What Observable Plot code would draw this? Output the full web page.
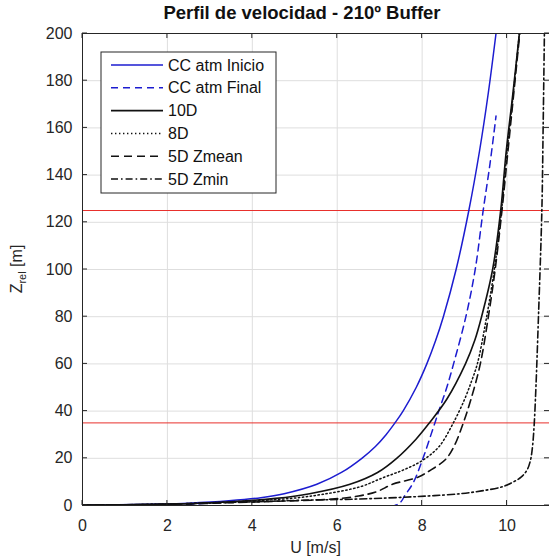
<!DOCTYPE html>
<html>
<head>
<meta charset="utf-8">
<script src="https://cdn.jsdelivr.net/npm/d3@7"></script>
<script src="https://cdn.jsdelivr.net/npm/@observablehq/plot@0.6"></script>
<style>
  html, body { margin: 0; padding: 0; background: #fff; }
  #chart { position: relative; width: 549px; height: 560px; }
  svg { font-family: "Liberation Sans", Arial, sans-serif; }
</style>
</head>
<body>
<div id="chart"></div>
<script>
// ---- data ----
const titleText = "Perfil de velocidad - 210º Buffer";
const xLabel = "U [m/s]";
const xTicks = [0, 2, 4, 6, 8, 10];
const yTicks = [0, 20, 40, 60, 80, 100, 120, 140, 160, 180, 200];
const refHeights = [35, 125];

const seriesNames = ["CC atm Inicio", "CC atm Final", "10D", "8D", "5D Zmean", "5D Zmin"];

const zInicio = [0.16, 0.3, 0.6, 1, 2, 3.3, 5, 9, 14, 20, 25, 30, 35, 40, 50, 60, 70, 80, 100, 125, 150, 175, 200];
const uInicio = [0, 0.85, 1.8, 2.5, 3.45, 4.2, 4.75, 5.52, 6.1, 6.58, 6.9, 7.15, 7.36, 7.55, 7.86, 8.11, 8.32, 8.5, 8.8, 9.1, 9.35, 9.56, 9.74];

const zFinal = [0.4, 0.2, 5, 10, 19, 35, 41, 50, 60, 80, 100, 124, 145, 165];
const uFinal = [2.45, 7.39, 7.62, 7.8, 8.0, 8.3, 8.41, 8.58, 8.74, 9.03, 9.25, 9.43, 9.6, 9.74];

const z10D = [0.15, 0.6, 1.5, 3, 5, 9, 14, 20, 28, 35, 45, 60, 70, 80, 100, 125, 150, 175, 200];
const u10D = [0, 2.0, 3.4, 4.55, 5.35, 6.3, 6.95, 7.4, 7.85, 8.17, 8.58, 9.02, 9.24, 9.4, 9.66, 9.85, 9.98, 10.14, 10.29];

const z8D = [0.15, 0.6, 1.5, 3, 4.75, 8, 11.8, 15, 19, 25, 34.5, 45, 53, 60, 80, 100, 125, 150, 175, 200];
const u8D = [0, 2.0, 3.5, 4.9, 5.66, 6.55, 7.08, 7.55, 8.0, 8.4, 8.72, 9.0, 9.17, 9.3, 9.52, 9.7, 9.87, 10.0, 10.15, 10.29];

const z5DMean = [0.15, 0.5, 1.2, 1.8, 2.6, 4, 6, 9, 12, 15, 19.5, 25, 34.5, 45, 60, 80, 100, 125, 150, 175, 200];
const u5DMean = [0, 2.0, 3.5, 4.6, 5.8, 6.5, 6.95, 7.3, 7.9, 8.2, 8.55, 8.75, 8.96, 9.15, 9.37, 9.56, 9.72, 9.88, 10.02, 10.16, 10.3];

const z5DMin = [0.15, 0.6, 1.5, 2.3, 2.6, 3.2, 4, 5, 6.2, 8, 10, 12, 15, 19, 25, 34.5, 50, 80, 125, 160, 200];
const u5DMin = [0, 2.0, 3.9, 5.3, 6.2, 7.2, 8.1, 8.9, 9.4, 9.9, 10.15, 10.33, 10.47, 10.55, 10.6, 10.64, 10.68, 10.74, 10.82, 10.85, 10.88];

// ---- styling ----
const seriesZ = [zInicio, zFinal, z10D, z8D, z5DMean, z5DMin];
const seriesU = [uInicio, uFinal, u10D, u8D, u5DMean, u5DMin];
const seriesColor = ["#1c1cd0", "#1c1cd0", "#111", "#111", "#111", "#111"];
const seriesDash = [null, "7,5", null, "1.4,2.6", "8,5", "7,3,1.6,3"];
const seriesWidth = [1.5, 1.5, 1.6, 1.5, 1.6, 1.6];

const rows = seriesNames.flatMap((name, i) =>
  seriesZ[i].map((z, j) => ({series: name, z, u: seriesU[i][j]}))
);

const W = 549, H = 560;
const mL = 82, mR = 0, mT = 33, mB = 55;
const ink = "#262626";

const lineMarks = seriesNames.map((name, i) =>
  Plot.line(rows.filter(d => d.series === name), {
    x: "u", y: "z",
    stroke: seriesColor[i],
    strokeWidth: seriesWidth[i],
    strokeDasharray: seriesDash[i],
    curve: "catmull-rom",
    clip: true
  })
);

const chart = Plot.plot({
  width: W, height: H,
  marginLeft: mL, marginRight: mR, marginTop: mT, marginBottom: mB,
  style: {fontFamily: "'Liberation Sans', Arial, sans-serif", fontSize: "16px", color: ink, background: "#fff"},
  x: {type: "linear", domain: [0, 11], ticks: xTicks, label: null},
  y: {type: "linear", domain: [0, 200], ticks: yTicks, label: null},
  marks: [
    Plot.gridX(xTicks, {stroke: "#dedede", strokeOpacity: 1, strokeWidth: 1}),
    Plot.gridY(yTicks, {stroke: "#dedede", strokeOpacity: 1, strokeWidth: 1}),
    Plot.ruleY(refHeights, {stroke: "#e8302c", strokeWidth: 1}),
    ...lineMarks,
    Plot.frame({stroke: ink, strokeWidth: 1}),
    Plot.axisX(xTicks, {anchor: "bottom", tickSize: 0, tickPadding: 14, fontSize: 16, fill: ink}),
    Plot.axisY(yTicks, {anchor: "left", tickSize: 0, tickPadding: 10, fontSize: 16, fill: ink})
  ]
});

document.getElementById("chart").appendChild(chart);

const xs = chart.scale("x"), ys = chart.scale("y");
const svg = d3.select(chart);
const root = svg.append("g");

// inward ticks on all sides (MATLAB box style)
const tk = root.append("g").attr("stroke", ink).attr("stroke-width", 1);
const pTop = mT, pBottom = H - mB, pLeft = mL, pRight = W - mR;
xTicks.forEach(v => {
  const px = xs.apply(v);
  tk.append("line").attr("x1", px).attr("x2", px).attr("y1", pBottom).attr("y2", pBottom - 5);
  tk.append("line").attr("x1", px).attr("x2", px).attr("y1", pTop).attr("y2", pTop + 5);
});
yTicks.forEach(v => {
  const py = ys.apply(v);
  tk.append("line").attr("x1", pLeft).attr("x2", pLeft + 5).attr("y1", py).attr("y2", py);
  tk.append("line").attr("x1", pRight).attr("x2", pRight - 5).attr("y1", py).attr("y2", py);
});

// title
root.append("text")
  .attr("x", 302).attr("y", 19)
  .attr("text-anchor", "middle")
  .attr("font-size", 18.5).attr("font-weight", "bold").attr("fill", "#111")
  .text(titleText);

// x label
root.append("text")
  .attr("x", (mL + W - mR) / 2).attr("y", 553)
  .attr("text-anchor", "middle")
  .attr("font-size", 16).attr("fill", ink)
  .text(xLabel);

// y label with subscript
const yl = root.append("text")
  .attr("transform", `translate(22, ${(mT + H - mB) / 2}) rotate(-90)`)
  .attr("text-anchor", "middle")
  .attr("font-size", 16).attr("fill", ink);
yl.append("tspan").text("Z");
yl.append("tspan").attr("font-size", 11).attr("dy", 4).text("rel");
yl.append("tspan").attr("dy", -4).text(" [m]");

// legend
const lg = root.append("g");
const lx = 101, ly = 52, lw = 175, lh = 141, step = 22.8;
lg.append("rect").attr("x", lx).attr("y", ly).attr("width", lw).attr("height", lh)
  .attr("fill", "#fff").attr("stroke", ink).attr("stroke-width", 1);
seriesNames.forEach((name, i) => {
  const cy = ly + 13 + i * step;
  lg.append("line")
    .attr("x1", lx + 10).attr("x2", lx + 62).attr("y1", cy).attr("y2", cy)
    .attr("stroke", seriesColor[i]).attr("stroke-width", seriesWidth[i])
    .attr("stroke-dasharray", seriesDash[i]);
  lg.append("text")
    .attr("x", lx + 67).attr("y", cy).attr("dy", "0.35em")
    .attr("text-anchor", "start")
    .attr("font-size", 16).attr("fill", "#111")
    .text(name);
});
</script>
</body>
</html>
